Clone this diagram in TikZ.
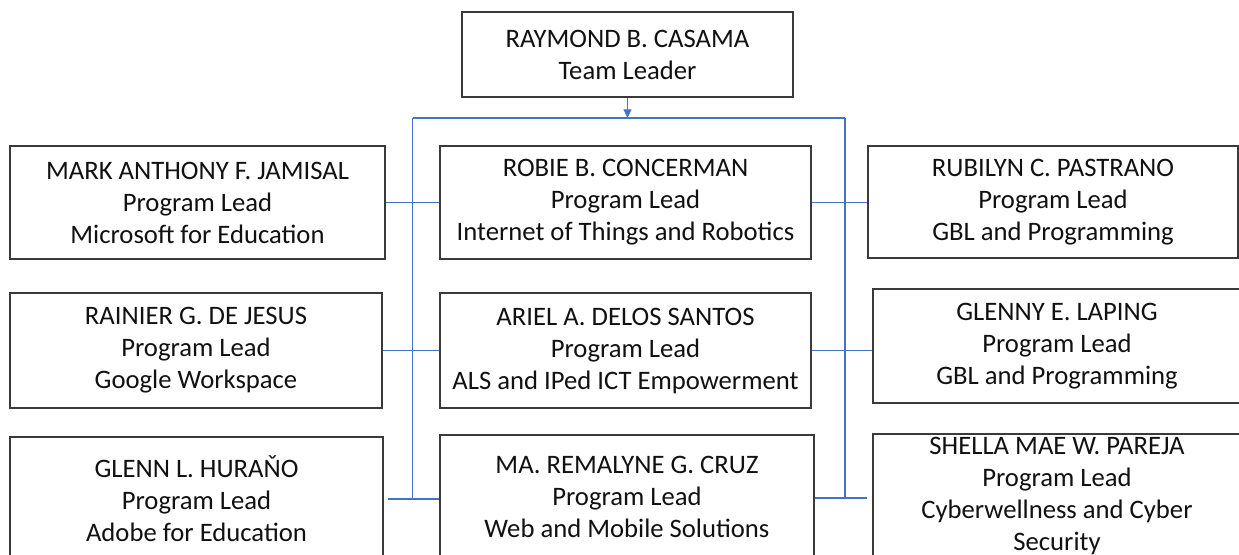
\documentclass[tikz,border=0pt]{standalone}
\usepackage{fontspec}
\setmainfont{Carlito}
\usetikzlibrary{arrows.meta,calc}
\definecolor{conn}{HTML}{4472C4}
\definecolor{boxline}{HTML}{3A3A3A}
\definecolor{txt}{HTML}{111111}
\tikzset{
  orgbox/.style={draw=boxline, line width=1.1pt, fill=white, inner sep=0pt,
    align=center, text=txt, font=\fontsize{20}{24}\selectfont},
  link/.style={draw=conn, line width=0.8pt},
}
\begin{document}
\begin{tikzpicture}[x=0.75pt, y=-0.75pt]
\useasboundingbox (0,0) rectangle (1239,554);
\clip (0,0) rectangle (1239,554);
\fill[white] (0,0) rectangle (1239,554);
% nodes
\node[orgbox, minimum width=331*0.75pt, minimum height=85*0.75pt] (top) at (627.5,54.5) {\raisebox{-1.5pt}{RAYMOND B. CASAMA}\\\raisebox{-1.5pt}{Team Leader}};
\node[orgbox, minimum width=375*0.75pt, minimum height=113*0.75pt] (l1) at (197.5,202.5) {MARK ANTHONY F. JAMISAL\\Program Lead\\Microsoft for Education};
\node[orgbox, minimum width=371*0.75pt, minimum height=113*0.75pt] (c1) at (625.5,202.5) {ROBIE B. CONCERMAN\\Program Lead\\Internet of Things and Robotics};
\node[orgbox, minimum width=370*0.75pt, minimum height=112*0.75pt] (r1) at (1053,202) {RUBILYN C. PASTRANO\\Program Lead\\GBL and Programming};
\node[orgbox, minimum width=372*0.75pt, minimum height=115*0.75pt] (l2) at (196,350.5) {RAINIER G. DE JESUS\\Program Lead\\Google Workspace};
\node[orgbox, minimum width=371*0.75pt, minimum height=115*0.75pt] (c2) at (625.5,350.5) {ARIEL A. DELOS SANTOS\\Program Lead\\ALS and IPed ICT Empowerment};
\node[orgbox, minimum width=368*0.75pt, minimum height=114*0.75pt] (r2) at (1057,346) {GLENNY E. LAPING\\Program Lead\\GBL and Programming};
\node[orgbox, minimum width=373*0.75pt, minimum height=124*0.75pt] (l3) at (196.5,499) {GLENN L. HURAŇO\\Program Lead\\Adobe for Education};
\node[orgbox, minimum width=374*0.75pt, minimum height=124*0.75pt] (c3) at (627,497) {MA. REMALYNE G. CRUZ\\Program Lead\\Web and Mobile Solutions};
\node[orgbox, minimum width=368*0.75pt, minimum height=124*0.75pt] (r3) at (1057,496) {SHELLA MAE W. PAREJA\\Program Lead\\Cyberwellness and Cyber\\Security};
% bus coordinates
\coordinate (bj) at (627.5,118);
\coordinate (bl) at (412.5,118);
\coordinate (br) at (845,118);
\coordinate (bl3) at (412.5,499);
\coordinate (br3) at (845,498);
% connectors
\draw[link, -{Triangle[length=6.5pt, width=6pt]}] (top.south) -- (bj);
\draw[link] (bl) -- (br);
\draw[link] (bl) -- (bl3);
\draw[link] (br) -- (br3);
\draw[link] (l1.east) -- (c1.west);
\draw[link] (l2.east) -- (c2.west);
\draw[link] ($(l3.east)+(4,0)$) -- (c3.west |- bl3);
\draw[link] (c1.east) -- (c1.east -| r1.west);
\draw[link] (c2.east) -- (c2.east -| r2.west);
\draw[link] (c3.east |- br3) -- ($(r3.west |- br3)+(-5,0)$);
\end{tikzpicture}
\end{document}
